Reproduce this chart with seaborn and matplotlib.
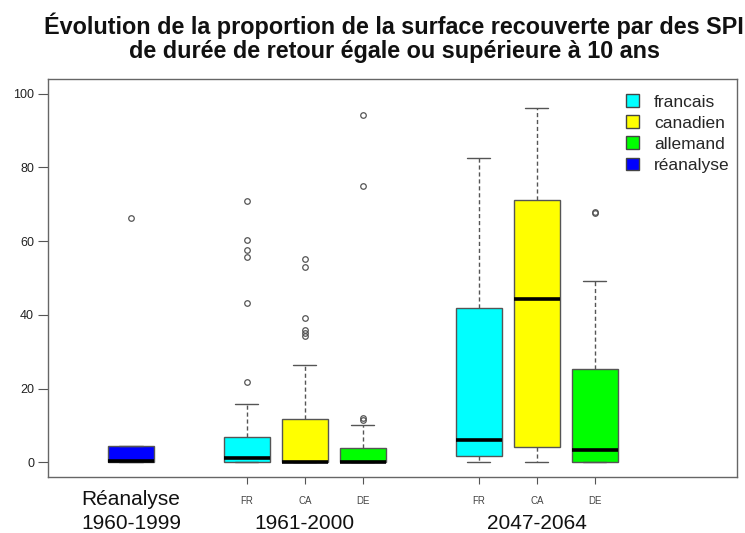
import seaborn as sns
import matplotlib.pyplot as plt
from matplotlib.patches import Patch

# box statistics (percent of surface)
positions = [0, 2, 3, 4, 6, 7, 8]
box_colors = ['#0000ff', '#00ffff', '#ffff00', '#00ff00', '#00ffff', '#ffff00', '#00ff00']
q1 = [0.0, 0.0, 0.0, 0.0, 1.7, 4.1, 0.0]
med = [0.3, 1.2, 0.2, 0.2, 6.0, 44.4, 3.2]
q3 = [4.4, 6.9, 11.8, 4.0, 41.8, 71.1, 25.2]
whislo = [0.0, 0.0, 0.0, 0.0, 0.1, 0.0, 0.0]
whishi = [4.4, 15.9, 26.4, 10.0, 82.5, 96.0, 49.2]
fliers = [
    [66.2],
    [21.9, 43.3, 55.6, 57.5, 60.4, 71.0],
    [34.2, 35.0, 35.8, 39.1, 53.0, 55.2],
    [11.5, 11.9, 74.9, 94.2],
    [],
    [],
    [67.5, 68.0],
]

tick_pos = [2, 3, 4, 6, 7, 8]
tick_labels = ['FR', 'CA', 'DE', 'FR', 'CA', 'DE']
legend_labels = ['francais', 'canadien', 'allemand', 'réanalyse']
legend_colors = ['#00ffff', '#ffff00', '#00ff00', '#0000ff']

sns.set_style('white')
plt.rcParams['font.family'] = ['Liberation Sans', 'DejaVu Sans']

fig = plt.figure(figsize=(7.45, 5.33), dpi=100)
ax = fig.add_axes([0.0644, 0.1051, 0.9248, 0.7467])

stats = []
for i in range(len(positions)):
    stats.append(dict(q1=q1[i], med=med[i], q3=q3[i],
                      whislo=whislo[i], whishi=whishi[i], fliers=fliers[i]))

grey = '#555555'
bp = ax.bxp(stats, positions=positions, widths=0.8, patch_artist=True,
            boxprops=dict(edgecolor=grey, linewidth=1),
            medianprops=dict(color='black', linewidth=2.6, solid_capstyle='butt'),
            whiskerprops=dict(color=grey, linewidth=1, linestyle=(0, (3, 2))),
            capprops=dict(color=grey, linewidth=1),
            capwidths=0.4,
            flierprops=dict(marker='o', markersize=4, markerfacecolor='none',
                            markeredgecolor=grey, markeredgewidth=0.9))
for patch, c in zip(bp['boxes'], box_colors):
    patch.set_facecolor(c)

ax.set_xlim(-1.43, 10.45)
ax.set_ylim(-4, 104)

for s in ax.spines.values():
    s.set_color('#666666')
    s.set_linewidth(1)

ax.set_yticks([0, 20, 40, 60, 80, 100])
ax.tick_params(axis='y', left=True, length=7, width=0.8, color='#555555',
               labelsize=9, pad=3, labelcolor='#222222')
ax.set_xticks(tick_pos)
ax.set_xticklabels(tick_labels)
ax.tick_params(axis='x', bottom=True, length=5, width=0.8, color='#555555',
               labelsize=7, pad=9, labelcolor='#444444')

trans = ax.get_xaxis_transform()
kw = dict(transform=trans, ha='center', va='baseline', fontsize=15, color='#111111')
ax.text(0, -0.0704, 'Réanalyse', **kw)
ax.text(0, -0.1306, '1960-1999', **kw)
ax.text(3, -0.1306, '1961-2000', **kw)
ax.text(7, -0.1306, '2047-2064', **kw)

handles = [Patch(facecolor=c, edgecolor='#444444', linewidth=1) for c in legend_colors]
ax.legend(handles, legend_labels, loc='upper left', frameon=False, fontsize=12.5,
          handlelength=0.75, handleheight=0.75, handletextpad=0.85, labelspacing=0.33,
          borderpad=0, borderaxespad=0, bbox_to_anchor=(0.839, 0.962))

title_kw = dict(ha='center', va='baseline', fontsize=16.8, fontweight='bold', color='#111111')
fig.text(0.529, 0.936, 'Évolution de la proportion de la surface recouverte par des SPI', **title_kw)
fig.text(0.529, 0.891, 'de durée de retour égale ou supérieure à 10 ans', **title_kw)

fig.savefig('out.png', dpi=100)
